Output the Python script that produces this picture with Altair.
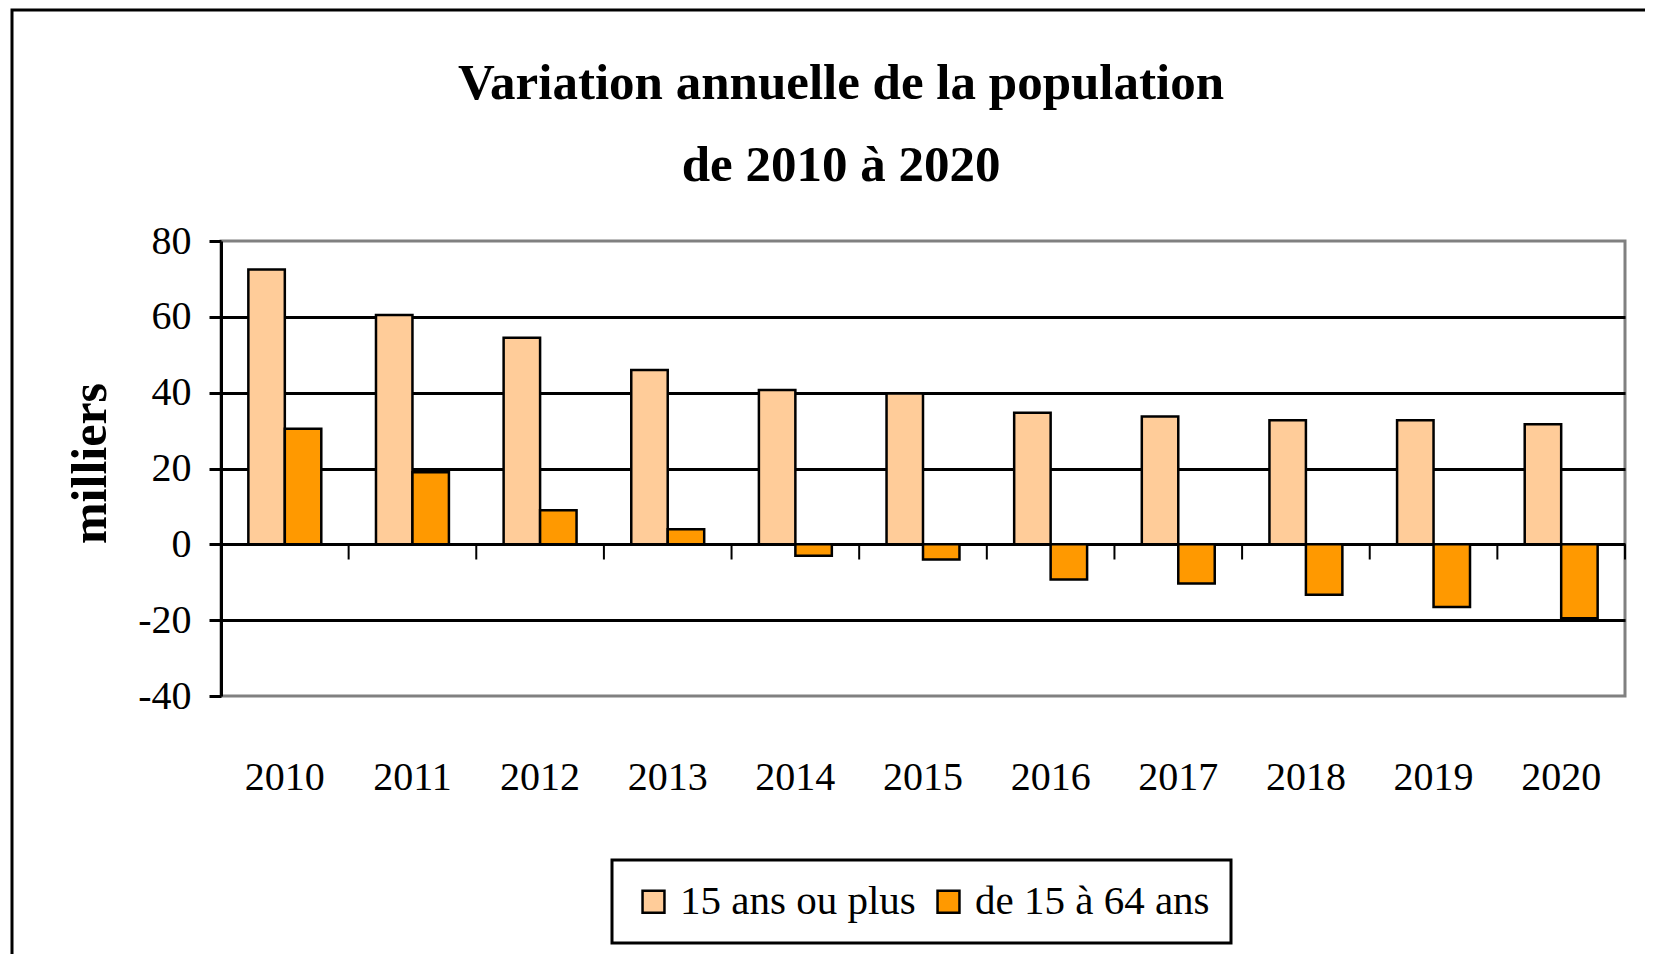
import altair as alt
import pandas as pd

years = [2010, 2011, 2012, 2013, 2014, 2015, 2016, 2017, 2018, 2019, 2020]
series_names = ["15 ans ou plus", "de 15 à 64 ans"]
plus15 = [72.5, 60.5, 54.5, 46.0, 40.7, 39.8, 34.7, 33.7, 32.7, 32.7, 31.7]
de15a64 = [30.5, 19.0, 9.0, 4.0, -3.0, -4.0, -9.3, -10.3, -13.3, -16.5, -19.5]
colors = ["#FFCC99", "#FF9900"]
y_ticks = [-40, -20, 0, 20, 40, 60, 80]

rows = []
for i, y in enumerate(years):
    rows.append({"year": y, "series": series_names[0], "value": plus15[i]})
    rows.append({"year": y, "series": series_names[1], "value": de15a64[i]})
df = pd.DataFrame(rows)
years_df = pd.DataFrame({"year": years})

FONT = "Liberation Serif"

x_scale = alt.Scale(paddingInner=0, paddingOuter=0)
y_scale = alt.Scale(domain=[-40, 80], nice=False, zero=False)

frame = alt.Chart(pd.DataFrame({"a": [0]})).mark_rect(
    fillOpacity=0, stroke="black", strokeWidth=3
).encode(
    x=alt.value(-209), x2=alt.value(1449), y=alt.value(-231), y2=alt.value(760)
)

bars = alt.Chart(df).mark_bar(stroke="black", strokeWidth=2.5).encode(
    x=alt.X("year:O", scale=x_scale, sort=years,
            axis=alt.Axis(title=None, domain=False, ticks=False, tickSize=0,
                          labelPadding=61, labelFontSize=40, labelFont=FONT,
                          labelColor="black", labelAngle=0, grid=False)),
    xOffset=alt.XOffset("series:N", sort=series_names,
                        scale=alt.Scale(paddingInner=0, paddingOuter=0.75)),
    y=alt.Y("value:Q", scale=y_scale,
            axis=alt.Axis(values=y_ticks, title="milliers", titleFont=FONT,
                          titleFontSize=50, titleFontWeight="bold", titleColor="black",
                          titleX=-131, titleY=222, titleAngle=-90, titleAlign="center",
                          titleBaseline="middle",
                          labelExpr="'' + datum.value",
                          labelFont=FONT, labelFontSize=40, labelColor="black",
                          labelPadding=18, tickSize=12, tickWidth=3, tickColor="black",
                          domainColor="black", domainWidth=3,
                          grid=True, gridWidth=3,
                          gridColor={"condition": {"test": "datum.value == 80 || datum.value == -40",
                                                   "value": "transparent"},
                                     "value": "black"})),
    color=alt.Color("series:N", sort=series_names,
                    scale=alt.Scale(domain=series_names, range=colors),
                    legend=alt.Legend(title=None, orient="none", legendX=391, legendY=619,
                                      direction="horizontal", symbolType="square",
                                      symbolSize=480, symbolStrokeColor="black",
                                      symbolStrokeWidth=2.5, symbolOpacity=1,
                                      labelFont=FONT, labelFontSize=41, labelColor="black",
                                      labelLimit=0,
                                      strokeColor="black", padding=21, columnPadding=12,
                                      labelOffset=6)),
)

ticks = alt.Chart(years_df).mark_rule(color="black", strokeWidth=2).encode(
    x=alt.X("year:O", bandPosition=1, sort=years, scale=x_scale),
    y=alt.datum(0),
    y2=alt.datum(-4),
)

chart = alt.layer(frame, bars, ticks).properties(
    width=1404,
    height=455,
    padding={"left": 213, "top": 233, "right": 20, "bottom": 258},
    autosize=alt.AutoSizeParams(type="none"),
    title=alt.TitleParams(
        text=["Variation annuelle de la population", "de 2010 à 2020"],
        font=FONT, fontSize=51, fontWeight="bold", color="black",
        anchor="middle", frame="group", dx=-82, dy=183, lineHeight=82, offset=0,
    ),
).configure(
    font=FONT, background="white",
    view=alt.ViewConfig(stroke="#808080", strokeWidth=3),
    legend=alt.LegendConfig(strokeWidth=3),
)

chart.save("out.html", embed_options={"renderer": "svg", "actions": False})
